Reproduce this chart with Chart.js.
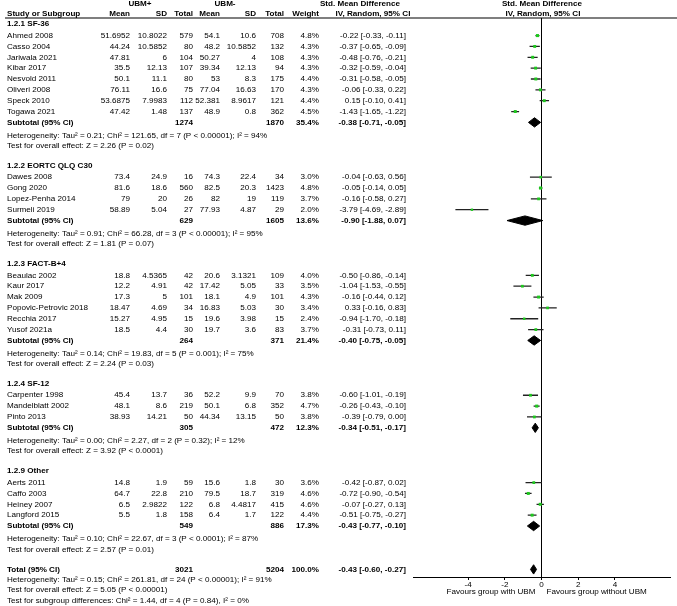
<!DOCTYPE html>
<html>
<head>
<meta charset="utf-8">
<title>Forest plot - UBM+ vs UBM-</title>
<script src="https://cdn.jsdelivr.net/npm/chart.js@4.4.1/dist/chart.umd.min.js"></script>
<style>
  html, body { margin: 0; padding: 0; background: #fff; }
  #wrap { position: relative; width: 677px; height: 606px; }
</style>
</head>
<body>
<div id="wrap"><canvas id="forest"></canvas></div>
<script>
// ---- data ----
var groupTitles = ['1.2.1 SF-36', '1.2.2 EORTC QLQ C30', '1.2.3 FACT-B+4', '1.2.4 SF-12', '1.2.9 Other'];

var studyNames = ['Ahmed 2008', 'Casso 2004', 'Jariwala 2021', 'Kibar 2017', 'Nesvold 2011', 'Oliveri 2008', 'Speck 2010', 'Togawa 2021',
  'Dawes 2008', 'Gong 2020', 'Lopez-Penha 2014', 'Surmeli 2019',
  'Beaulac 2002', 'Kaur 2017', 'Mak 2009', 'Popovic-Petrovic 2018', 'Recchia 2017', 'Yusof 2021a',
  'Carpenter 1998', 'Mandelblatt 2002', 'Pinto 2013',
  'Aerts 2011', 'Caffo 2003', 'Heiney 2007', 'Langford 2015'];
var studyGroup = [0, 0, 0, 0, 0, 0, 0, 0, 1, 1, 1, 1, 2, 2, 2, 2, 2, 2, 3, 3, 3, 4, 4, 4, 4];

var plusMean = [51.6952, 44.24, 47.81, 35.5, 50.1, 76.11, 53.6875, 47.42, 73.4, 81.6, 79, 58.89, 18.8, 12.2, 17.3, 18.47, 15.27, 18.5, 45.4, 48.1, 38.93, 14.8, 64.7, 6.5, 5.5];
var plusSD = [10.8022, 10.5852, 6, 12.13, 11.1, 16.6, 7.9983, 1.48, 24.9, 18.6, 20, 5.04, 4.5365, 4.91, 5, 4.69, 4.95, 4.4, 13.7, 8.6, 14.21, 1.9, 22.8, 2.9822, 1.8];
var plusN = [579, 80, 104, 107, 80, 75, 112, 137, 16, 560, 26, 27, 42, 42, 101, 34, 15, 30, 36, 219, 50, 59, 210, 122, 158];
var minusMean = [54.1, 48.2, 50.27, 39.34, 53, 77.04, 52.381, 48.9, 74.3, 82.5, 82, 77.93, 20.6, 17.42, 18.1, 16.83, 19.6, 19.7, 52.2, 50.1, 44.34, 15.6, 79.5, 6.8, 6.4];
var minusSD = [10.6, 10.5852, 4, 12.13, 8.3, 16.63, 8.9617, 0.8, 22.4, 20.3, 19, 4.87, 3.1321, 5.05, 4.9, 5.03, 3.98, 3.6, 9.9, 6.8, 13.15, 1.8, 18.7, 4.4817, 1.7];
var minusN = [708, 132, 108, 94, 175, 170, 121, 362, 34, 1423, 119, 29, 109, 33, 101, 30, 15, 83, 70, 352, 50, 30, 319, 415, 122];
var weights = [4.8, 4.3, 4.3, 4.3, 4.4, 4.3, 4.4, 4.5, 3.0, 4.8, 3.7, 2.0, 4.0, 3.5, 4.3, 3.4, 2.4, 3.7, 3.8, 4.7, 3.8, 3.6, 4.6, 4.6, 4.4];
var smd = [-0.22, -0.37, -0.48, -0.32, -0.31, -0.06, 0.15, -1.43, -0.04, -0.05, -0.16, -3.79, -0.50, -1.04, -0.16, 0.33, -0.94, -0.31, -0.60, -0.26, -0.39, -0.42, -0.72, -0.07, -0.51];
var smdLow = [-0.33, -0.65, -0.76, -0.59, -0.58, -0.33, -0.10, -1.65, -0.63, -0.14, -0.58, -4.69, -0.86, -1.53, -0.44, -0.16, -1.70, -0.73, -1.01, -0.43, -0.79, -0.87, -0.90, -0.27, -0.75];
var smdHigh = [-0.11, -0.09, -0.21, -0.04, -0.05, 0.22, 0.41, -1.22, 0.56, 0.05, 0.27, -2.89, -0.14, -0.55, 0.12, 0.83, -0.18, 0.11, -0.19, -0.10, 0.00, 0.02, -0.54, 0.13, -0.27];

var subPlusN = [1274, 629, 264, 305, 549];
var subMinusN = [1870, 1605, 371, 472, 886];
var subWeight = [35.4, 13.6, 21.4, 12.3, 17.3];
var subSmd = [-0.38, -0.90, -0.40, -0.34, -0.43];
var subLow = [-0.71, -1.88, -0.75, -0.51, -0.77];
var subHigh = [-0.05, 0.07, -0.05, -0.17, -0.10];
var subHet = [
  'Heterogeneity: Tau\u00b2 = 0.21; Chi\u00b2 = 121.65, df = 7 (P < 0.00001); I\u00b2 = 94%',
  'Heterogeneity: Tau\u00b2 = 0.91; Chi\u00b2 = 66.28, df = 3 (P < 0.00001); I\u00b2 = 95%',
  'Heterogeneity: Tau\u00b2 = 0.14; Chi\u00b2 = 19.83, df = 5 (P = 0.001); I\u00b2 = 75%',
  'Heterogeneity: Tau\u00b2 = 0.00; Chi\u00b2 = 2.27, df = 2 (P = 0.32); I\u00b2 = 12%',
  'Heterogeneity: Tau\u00b2 = 0.10; Chi\u00b2 = 22.67, df = 3 (P < 0.0001); I\u00b2 = 87%'];
var subTest = [
  'Test for overall effect: Z = 2.26 (P = 0.02)',
  'Test for overall effect: Z = 1.81 (P = 0.07)',
  'Test for overall effect: Z = 2.24 (P = 0.03)',
  'Test for overall effect: Z = 3.92 (P < 0.0001)',
  'Test for overall effect: Z = 2.57 (P = 0.01)'];

var totalPlusN = 3021, totalMinusN = 5204, totalWeight = 100.0;
var totalSmd = -0.43, totalLow = -0.60, totalHigh = -0.27;
var totalLines = [
  'Heterogeneity: Tau\u00b2 = 0.15; Chi\u00b2 = 261.81, df = 24 (P < 0.00001); I\u00b2 = 91%',
  'Test for overall effect: Z = 5.05 (P < 0.00001)',
  'Test for subgroup differences: Chi\u00b2 = 1.44, df = 4 (P = 0.84), I\u00b2 = 0%'];

var xTicks = [-4, -2, 0, 2, 4];
var favourLeft = 'Favours group with UBM';
var favourRight = 'Favours group without UBM';

// ---- row layout (one unit = one text line) ----
var rows = [];
var r = 0;
groupTitles.forEach(function(t, g) {
  rows.push({ kind: 'title', y: r, g: g }); r += 1.05;
  for (var i = 0; i < studyNames.length; i++) {
    if (studyGroup[i] === g) { rows.push({ kind: 'study', y: r, i: i }); r += 1; }
  }
  rows.push({ kind: 'sub', y: r, g: g });
  rows.push({ kind: 'het', y: r + 1.2, text: subHet[g] });
  rows.push({ kind: 'het', y: r + 2.15, text: subTest[g] });
  r += 4;
});
rows.push({ kind: 'total', y: r });
totalLines.forEach(function(t, k) { rows.push({ kind: 'het', y: r + 0.95 + k * 0.95, text: t }); });

var Y_MIN = -0.57, Y_MAX = 50.95;
var DIAMOND_H = 0.43;

// ---- datasets built from the arrays ----
var ciData = [], pointData = [], diamondData = [];
rows.forEach(function(row) {
  if (row.kind === 'study') {
    ciData.push({ x: smdLow[row.i], y: row.y }, { x: smdHigh[row.i], y: row.y }, { x: null, y: null });
    pointData.push({ x: smd[row.i], y: row.y, w: weights[row.i] });
  } else if (row.kind === 'sub' || row.kind === 'total') {
    var est = row.kind === 'sub' ? subSmd[row.g] : totalSmd;
    var lo = row.kind === 'sub' ? subLow[row.g] : totalLow;
    var hi = row.kind === 'sub' ? subHigh[row.g] : totalHigh;
    diamondData.push({ x: lo, y: row.y }, { x: est, y: row.y - DIAMOND_H }, { x: hi, y: row.y },
      { x: est, y: row.y + DIAMOND_H }, { x: lo, y: row.y }, { x: null, y: null });
  }
});

var FONT = '"Liberation Sans", Arial, sans-serif';
var FS = 8.1;
function fmt2(v) { return v.toFixed(2); }
function ciText(e, lo, hi) { return fmt2(e) + ' [' + fmt2(lo) + ', ' + fmt2(hi) + ']'; }

var colX = { name: 7, m1: 130, sd1: 167, n1: 193, m2: 220, sd2: 256, n2: 284, w: 319, ci: 406 };

var tablePlugin = {
  id: 'forestTable',
  afterDraw: function(chart) {
    var ctx = chart.ctx;
    var ys = chart.scales.y, xs = chart.scales.x;
    var top = chart.chartArea.top;
    ctx.save();
    ctx.fillStyle = '#000';
    ctx.textBaseline = 'middle';
    function txt(s, px, py, align, bold) {
      ctx.font = (bold ? 'bold ' : '') + FS + 'px ' + FONT;
      ctx.textAlign = align;
      ctx.fillText(s, px, py);
    }
    // header
    var h1 = top - 14, h2 = top - 4.5;
    txt('UBM+', 140, h1, 'center', true);
    txt('UBM-', 225, h1, 'center', true);
    txt('Std. Mean Difference', 360, h1, 'center', true);
    txt('Std. Mean Difference', 542, h1, 'center', true);
    txt('Study or Subgroup', colX.name, h2, 'left', true);
    txt('Mean', colX.m1, h2, 'right', true);
    txt('SD', colX.sd1, h2, 'right', true);
    txt('Total', colX.n1, h2, 'right', true);
    txt('Mean', colX.m2, h2, 'right', true);
    txt('SD', colX.sd2, h2, 'right', true);
    txt('Total', colX.n2, h2, 'right', true);
    txt('Weight', colX.w, h2, 'right', true);
    txt('IV, Random, 95% CI', 373, h2, 'center', true);
    txt('IV, Random, 95% CI', 543, h2, 'center', true);

    ctx.strokeStyle = '#000';
    ctx.lineWidth = 1.2;
    ctx.beginPath();
    ctx.moveTo(5, top);
    ctx.lineTo(677, top);
    ctx.stroke();

    rows.forEach(function(row) {
      var py = ys.getPixelForValue(row.y);
      if (row.kind === 'title') {
        txt(groupTitles[row.g], colX.name, py, 'left', true);
      } else if (row.kind === 'study') {
        var i = row.i;
        txt(studyNames[i], colX.name, py, 'left', false);
        txt(String(plusMean[i]), colX.m1, py, 'right', false);
        txt(String(plusSD[i]), colX.sd1, py, 'right', false);
        txt(String(plusN[i]), colX.n1, py, 'right', false);
        txt(String(minusMean[i]), colX.m2, py, 'right', false);
        txt(String(minusSD[i]), colX.sd2, py, 'right', false);
        txt(String(minusN[i]), colX.n2, py, 'right', false);
        txt(weights[i].toFixed(1) + '%', colX.w, py, 'right', false);
        txt(ciText(smd[i], smdLow[i], smdHigh[i]), colX.ci, py, 'right', false);
      } else if (row.kind === 'sub') {
        var g = row.g;
        txt('Subtotal (95% CI)', colX.name, py, 'left', true);
        txt(String(subPlusN[g]), colX.n1, py, 'right', true);
        txt(String(subMinusN[g]), colX.n2, py, 'right', true);
        txt(subWeight[g].toFixed(1) + '%', colX.w, py, 'right', true);
        txt(ciText(subSmd[g], subLow[g], subHigh[g]), colX.ci, py, 'right', true);
      } else if (row.kind === 'total') {
        txt('Total (95% CI)', colX.name, py, 'left', true);
        txt(String(totalPlusN), colX.n1, py, 'right', true);
        txt(String(totalMinusN), colX.n2, py, 'right', true);
        txt(totalWeight.toFixed(1) + '%', colX.w, py, 'right', true);
        txt(ciText(totalSmd, totalLow, totalHigh), colX.ci, py, 'right', true);
      } else if (row.kind === 'het') {
        txt(row.text, colX.name, py, 'left', false);
      }
    });

    // favours labels under the axis
    var zero = xs.getPixelForValue(0);
    var fy = chart.chartArea.bottom + 15;
    txt(favourLeft, zero - 6, fy, 'right', false);
    txt(favourRight, zero + 5, fy, 'left', false);
    ctx.restore();
  }
};

new Chart(document.getElementById('forest'), {
  type: 'line',
  data: {
    datasets: [
      {
        label: 'Study estimate',
        data: pointData,
        showLine: false,
        pointStyle: 'rect',
        pointRadius: function(c) { return c.raw ? 1.3 + c.raw.w * 0.18 : 0; },
        pointBackgroundColor: '#1ec81e',
        pointBorderWidth: 0,
        order: 0
      },
      {
        label: 'Pooled',
        data: diamondData,
        borderColor: '#000',
        backgroundColor: '#000',
        borderWidth: 1,
        pointRadius: 0,
        fill: 'shape',
        tension: 0,
        order: 1
      },
      {
        label: '95% CI',
        data: ciData,
        borderColor: '#222',
        borderWidth: 1.3,
        pointRadius: 0,
        fill: false,
        order: 2
      },
      {
        label: 'No effect',
        data: [{ x: 0, y: Y_MIN }, { x: 0, y: Y_MAX }],
        borderColor: '#000',
        borderWidth: 1,
        pointRadius: 0,
        fill: false,
        order: 3
      }
    ]
  },
  plugins: [tablePlugin],
  options: {
    responsive: true,
    maintainAspectRatio: false,
    animation: false,
    layout: { padding: { left: 413, right: 7, top: 18, bottom: 0 } },
    plugins: {
      legend: { display: false },
      tooltip: { enabled: false }
    },
    scales: {
      x: {
        type: 'linear',
        min: -7,
        max: 7,
        afterBuildTicks: function(scale) {
          scale.ticks = xTicks.map(function(v) { return { value: v }; });
        },
        afterFit: function(scale) { scale.height = 29; },
        grid: { display: true, drawOnChartArea: false, drawTicks: true, tickLength: 3, color: '#000' },
        border: { display: true, color: '#000', width: 1 },
        ticks: {
          padding: 0,
          autoSkip: false,
          maxRotation: 0,
          color: '#000',
          font: { family: FONT, size: FS },
          callback: function(v) { return String(v); }
        }
      },
      y: {
        type: 'linear',
        display: false,
        reverse: true,
        min: Y_MIN,
        max: Y_MAX
      }
    }
  }
});
</script>
</body>
</html>
